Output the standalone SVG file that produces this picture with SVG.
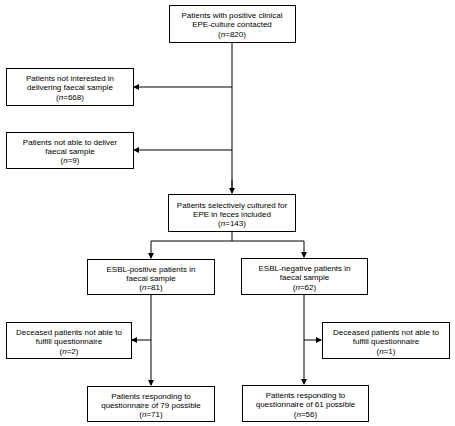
<svg xmlns="http://www.w3.org/2000/svg" width="455" height="426" viewBox="0 0 455 426">
<defs>
<marker id="ah" markerWidth="6" markerHeight="6" refX="5" refY="3" orient="auto" markerUnits="userSpaceOnUse">
<path d="M0,0 L6,3 L0,6 Z" fill="#000"/>
</marker>
<style>
.box{fill:#fff;stroke:#000;stroke-width:1}
.t{font-family:"Liberation Sans",Arial,sans-serif;font-size:8px;fill:#000;text-anchor:middle}
.c{fill:none;stroke:#000;stroke-width:1}
</style>
</defs>
<rect width="455" height="426" fill="#fff"/>
<g id="connectors">
<path class="c" d="M232,42 V188"/>
<path class="c" d="M232,87 H134" marker-end="url(#ah)"/>
<path class="c" d="M232,150 H134" marker-end="url(#ah)"/>
<path class="c" d="M232,180 V193" marker-end="url(#ah)"/>
<path class="c" d="M232,232 V241 M151,241 H304"/>
<path class="c" d="M151,241 V258" marker-end="url(#ah)"/>
<path class="c" d="M304,241 V257" marker-end="url(#ah)"/>
<path class="c" d="M151,294 V385" marker-end="url(#ah)"/>
<path class="c" d="M151,340 H132" marker-end="url(#ah)"/>
<path class="c" d="M304,294 V384" marker-end="url(#ah)"/>
<path class="c" d="M304,340 H321" marker-end="url(#ah)"/>
</g>
<g id="n1"><rect class="box" x="169.5" y="5.5" width="126" height="37"/>
<text class="t" x="232" y="18">Patients with positive clinical</text>
<text class="t" x="232" y="27.3">EPE-culture contacted</text>
<text class="t" x="232" y="36.6">(<tspan font-style="italic">n</tspan>=820)</text></g>
<g id="n2"><rect class="box" x="6.5" y="68.5" width="127" height="37"/>
<text class="t" x="70" y="81">Patients not interested in</text>
<text class="t" x="70" y="90.3">delivering faecal sample</text>
<text class="t" x="70" y="99.6">(<tspan font-style="italic">n</tspan>=668)</text></g>
<g id="n3"><rect class="box" x="6.5" y="132.5" width="127" height="36"/>
<text class="t" x="70" y="144.5">Patients not able to deliver</text>
<text class="t" x="70" y="153.8">faecal sample</text>
<text class="t" x="70" y="163.1">(<tspan font-style="italic">n</tspan>=9)</text></g>
<g id="n4"><rect class="box" x="168.5" y="194.5" width="127" height="37"/>
<text class="t" x="232" y="207.5">Patients selectively cultured for</text>
<text class="t" x="232" y="216.8">EPE in feces included</text>
<text class="t" x="232" y="226.1">(<tspan font-style="italic">n</tspan>=143)</text></g>
<g id="n5"><rect class="box" x="87.5" y="259.5" width="127" height="35"/>
<text class="t" x="151" y="271.5">ESBL-positive patients in</text>
<text class="t" x="151" y="280.8">faecal sample</text>
<text class="t" x="151" y="290.1">(<tspan font-style="italic">n</tspan>=81)</text></g>
<g id="n6"><rect class="box" x="241.5" y="258.5" width="126" height="36"/>
<text class="t" x="304.5" y="271">ESBL-negative patients in</text>
<text class="t" x="304.5" y="280.3">faecal sample</text>
<text class="t" x="304.5" y="289.6">(<tspan font-style="italic">n</tspan>=62)</text></g>
<g id="n7"><rect class="box" x="6.5" y="322.5" width="125" height="36"/>
<text class="t" x="69" y="335">Deceased patients not able to</text>
<text class="t" x="69" y="344.3">fulfill questionnaire</text>
<text class="t" x="69" y="353.6">(<tspan font-style="italic">n</tspan>=2)</text></g>
<g id="n8"><rect class="box" x="322.5" y="322.5" width="127" height="36"/>
<text class="t" x="386" y="335">Deceased patients not able to</text>
<text class="t" x="386" y="344.3">fulfill questionnaire</text>
<text class="t" x="386" y="353.6">(<tspan font-style="italic">n</tspan>=1)</text></g>
<g id="n9"><rect class="box" x="87.5" y="386.5" width="127" height="35"/>
<text class="t" x="151" y="398.5">Patients responding to</text>
<text class="t" x="151" y="407.8">questionnaire of 79 possible</text>
<text class="t" x="151" y="417.1">(<tspan font-style="italic">n</tspan>=71)</text></g>
<g id="n10"><rect class="box" x="242.5" y="385.5" width="126" height="36"/>
<text class="t" x="305.5" y="398">Patients responding to</text>
<text class="t" x="305.5" y="407.3">questionnaire of 61 possible</text>
<text class="t" x="305.5" y="416.6">(<tspan font-style="italic">n</tspan>=56)</text></g>
</svg>
